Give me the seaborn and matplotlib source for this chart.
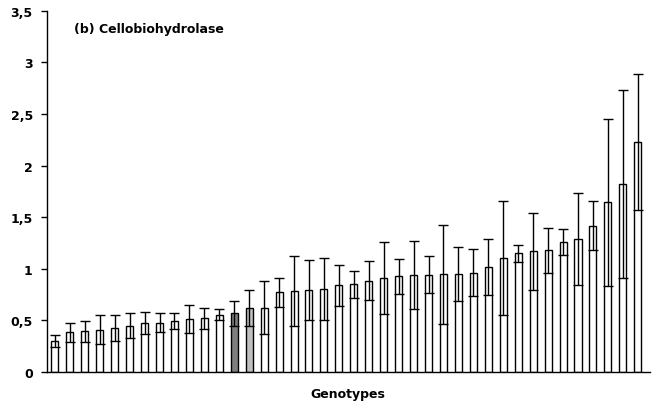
import numpy as np
import pandas as pd
import matplotlib
matplotlib.use("Agg")
import matplotlib.pyplot as plt
import seaborn as sns

# mean activity per genotype (sorted) and its error
means = [0.30, 0.385, 0.395, 0.41, 0.43, 0.45, 0.475, 0.48, 0.495, 0.515,
         0.52, 0.555, 0.57, 0.62, 0.625, 0.775, 0.785, 0.795, 0.805, 0.84,
         0.85, 0.885, 0.91, 0.93, 0.94, 0.945, 0.95, 0.95, 0.965, 1.015,
         1.105, 1.15, 1.17, 1.18, 1.26, 1.29, 1.42, 1.645, 1.825, 2.23]
errs = [0.055, 0.09, 0.10, 0.14, 0.125, 0.12, 0.11, 0.09, 0.08, 0.14,
        0.10, 0.055, 0.12, 0.175, 0.255, 0.14, 0.34, 0.29, 0.30, 0.20,
        0.13, 0.19, 0.35, 0.17, 0.33, 0.18, 0.48, 0.26, 0.23, 0.27,
        0.555, 0.08, 0.37, 0.22, 0.13, 0.45, 0.24, 0.81, 0.91, 0.66]
genotypes = [f"G{i + 1}" for i in range(len(means))]
# two reference genotypes are shaded
bar_colors = ["white"] * len(means)
bar_colors[12] = "#7f7f7f"
bar_colors[13] = "#c0c0c0"
yticks = [0, 0.5, 1, 1.5, 2, 2.5, 3, 3.5]
ytick_labels = ["0", "0,5", "1", "1,5", "2", "2,5", "3", "3,5"]

df = pd.DataFrame({"genotype": genotypes, "mean": means, "err": errs})

sns.set_style("white")
plt.rcParams["font.family"] = ["DejaVu Sans"]
plt.rcParams["text.color"] = "black"
plt.rcParams["axes.labelcolor"] = "black"
plt.rcParams["ytick.color"] = "black"

fig = plt.figure(figsize=(6.53, 4.10), dpi=100)
ax = fig.add_axes([0.0715, 0.09, 0.9235, 0.881])

sns.barplot(data=df, x="genotype", y="mean", hue="genotype", palette=bar_colors,
            legend=False, errorbar=None, width=0.47, edgecolor="black",
            linewidth=1.0, ax=ax)
ax.errorbar(np.arange(len(df)), df["mean"], yerr=df["err"], fmt="none",
            ecolor="black", elinewidth=1.0, capsize=3.5, capthick=1.0)

ax.set_xlim(-0.55, len(df) - 0.2)
ax.set_ylim(0, 3.5)
ax.set_yticks(yticks)
ax.set_yticklabels(ytick_labels, fontsize=9, fontweight="bold", color="black")
ax.set_xticks([])
ax.set_xlabel("Genotypes", fontsize=9, fontweight="bold", labelpad=11,
              color="black")
ax.set_ylabel("")
ax.tick_params(axis="y", direction="out", length=4, width=1, left=True, pad=6,
               color="black")

for side in ["top", "right"]:
    ax.spines[side].set_visible(False)
for side in ["left", "bottom"]:
    ax.spines[side].set_color("black")
    ax.spines[side].set_linewidth(1.0)

ax.text(0.045, 0.95, "(b) Cellobiohydrolase", transform=ax.transAxes,
        fontsize=9, fontweight="bold", ha="left", va="center", color="black")

fig.savefig("out.png", dpi=100)
